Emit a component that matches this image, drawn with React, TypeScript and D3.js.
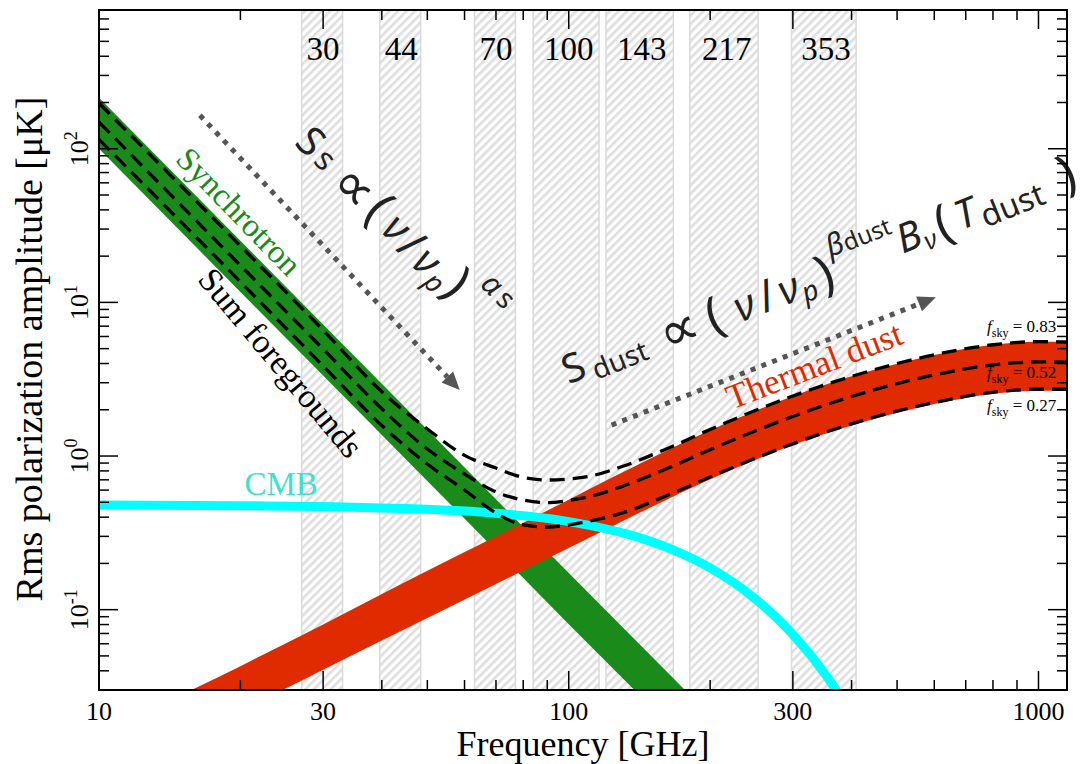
import React from "react";
import * as d3 from "d3";

// ---------------- data ----------------
const bandNames = ["30", "44", "70", "100", "143", "217", "353"];
const bandCenters = [30, 44, 70, 100, 143, 217, 353];
const bandLow = [27, 39.6, 63, 84, 120, 181, 298];
const bandHigh = [33, 48.4, 77, 116, 167, 253, 409];

const syncFreq = [10, 20, 30, 50, 70, 100, 150, 200];
const syncHigh = [215, 25.2, 7.18, 1.48, 0.523, 0.173, 0.0498, 0.0205];
const syncLow = [100, 11.7, 3.34, 0.689, 0.243, 0.0805, 0.0232, 0.0095];

const dustFreq = [10, 15, 20, 30, 50, 70, 100, 150, 200, 300, 400, 500, 600, 800, 1000, 1150];
const dustHigh = [0.0147, 0.0279, 0.0429, 0.0802, 0.179, 0.299, 0.52, 0.97, 1.47, 2.45, 3.3, 3.98, 4.55, 5.3, 5.55, 5.52];
const dustLow = [0.00745, 0.014, 0.0218, 0.0407, 0.0883, 0.147, 0.252, 0.466, 0.706, 1.18, 1.58, 1.91, 2.18, 2.54, 2.66, 2.65];

const cmbFreq = [10, 20, 30, 44, 50, 70, 100, 143, 172, 200, 250, 300, 353, 400];
const cmbRms = [0.48, 0.475, 0.469, 0.456, 0.45, 0.424, 0.374, 0.291, 0.235, 0.187, 0.117, 0.069, 0.0374, 0.0209];

const sumFreq = [10, 20, 30, 40, 50, 60, 70, 80, 90, 100, 110, 130, 160, 200, 300, 400, 600, 800, 1000, 1150];
const sum083 = [198, 23.3, 6.6, 2.62, 1.5, 1.01, 0.835, 0.725, 0.698, 0.708, 0.735, 0.855, 1.1, 1.49, 2.46, 3.3, 4.56, 5.3, 5.55, 5.52];
const sum052 = [149, 17.4, 4.97, 2.03, 1.11, 0.764, 0.583, 0.517, 0.497, 0.513, 0.542, 0.634, 0.817, 1.1, 1.81, 2.44, 3.37, 3.92, 4.1, 4.08];
const sum027 = [115, 13.6, 3.86, 1.58, 0.887, 0.601, 0.426, 0.356, 0.345, 0.356, 0.376, 0.426, 0.545, 0.73, 1.2, 1.62, 2.23, 2.6, 2.72, 2.72];
const fskyValues = ["0.83", "0.52", "0.27"];

const xMajorTicks = [10, 30, 100, 300, 1000];
const xTickLabels = ["10", "30", "100", "300", "1000"];
const xMinorTicks = [20, 40, 50, 60, 70, 80, 90, 200, 400, 500, 600, 700, 800, 900];
const yMajorTicks = [0.1, 1, 10, 100];
const yTickExponents = ["-1", "0", "1", "2"];
const yMinorTicks = [
  0.04, 0.05, 0.06, 0.07, 0.08, 0.09,
  0.2, 0.3, 0.4, 0.5, 0.6, 0.7, 0.8, 0.9,
  2, 3, 4, 5, 6, 7, 8, 9,
  20, 30, 40, 50, 60, 70, 80, 90,
  200, 300, 400, 500, 600, 700, 800,
];

const SERIF = "'Liberation Serif', 'Times New Roman', Times, serif";
const SANS = "'Noto Sans', 'DejaVu Sans', sans-serif";
const SYM = "'DejaVu Sans', sans-serif";

const W = 1087;
const H = 764;
const PL = 99, PR = 1067, PT = 10, PB = 690;

type Piece = [string, number, number, number, boolean?, string?];

export default function App() {
  const x = d3.scaleLog().domain([10, 1150]).range([PL, PR]);
  const y = d3.scaleLog().domain([0.03, 800]).range([PB, PT]);

  const area = (f: number[], lo: number[], hi: number[], curve: any) =>
    d3
      .area<number>()
      .x((i) => x(f[i]))
      .y0((i) => y(lo[i]))
      .y1((i) => y(hi[i]))
      .curve(curve)(d3.range(f.length)) as string;

  const line = (f: number[], v: number[]) =>
    d3
      .line<number>()
      .x((i) => x(f[i]))
      .y((i) => y(v[i]))
      .curve(d3.curveMonotoneX)(d3.range(f.length)) as string;

  const syncPath = area(syncFreq, syncLow, syncHigh, d3.curveLinear);
  const dustPath = area(dustFreq, dustLow, dustHigh, d3.curveMonotoneX);
  const cmbPath = line(cmbFreq, cmbRms);
  const sums = [sum083, sum052, sum027].map((s) => line(sumFreq, s));

  // arrows in data coordinates
  const arrows = [
    { from: [16.4, 165], to: [58.6, 2.69] },
    { from: [123.4, 1.59], to: [604.5, 10.8] },
  ];

  const arrowEls = arrows.map((a, k) => {
    const x0 = x(a.from[0]), y0 = y(a.from[1]);
    const x1 = x(a.to[0]), y1 = y(a.to[1]);
    const dx = x1 - x0, dy = y1 - y0;
    const L = Math.hypot(dx, dy);
    const ux = dx / L, uy = dy / L;
    const hl = 18, hw = 8;
    const bx = x1 - ux * hl, by = y1 - uy * hl;
    const head = `M${x1},${y1}L${bx - uy * hw},${by + ux * hw}L${bx + uy * hw},${by - ux * hw}Z`;
    return (
      <g key={k}>
        <line x1={x0} y1={y0} x2={bx} y2={by} stroke="#555" strokeWidth={5} strokeDasharray="5 6.5" />
        <path d={head} fill="#555" />
      </g>
    );
  });

  const tf = (f: number, v: number, ang: number) => `translate(${x(f)},${y(v)}) rotate(${ang})`;

  // formula pieces: [text, along, down, size, italic, font]
  const formula1: Piece[] = [
    ["S", 0, 0, 40],
    ["s", 23, 3, 32],
    ["∝", 63, 3, 56, false, SYM],
    ["(", 96, 0, 50],
    ["ν", 122, 2, 42, true],
    ["/", 144, 4, 44],
    ["ν", 167, 5, 42, true],
    ["p", 187, 16, 28, true],
    [")", 204, 0, 50],
    ["α", 230, -23, 30, true],
    ["s", 250, -22, 28],
  ];
  const formula2: Piece[] = [
    ["S", 0, 0, 40],
    ["dust", 46, 11, 28],
    ["∝", 112, 5, 56, false, SYM],
    ["(", 150, 4, 50],
    ["ν", 182, 6, 42, true],
    ["/", 206, 6, 44],
    ["ν", 229, 7, 42, true],
    ["p", 248, 18, 28, true],
    [")", 268, 6, 50],
    ["β", 288, -16, 30, true],
    ["dust", 322, -13, 24],
    ["B", 360, 4, 40, true],
    ["ν", 379, 16, 26, true],
    ["(", 397, 4, 50],
    ["T", 421, 4, 40, true],
    ["dust", 468, 14, 32],
    [")", 530, 4, 50],
  ];

  const renderFormula = (pieces: Piece[], f: number, v: number, ang: number) => (
    <g transform={tf(f, v, ang)} fontFamily={SANS} fill="#222">
      {pieces.map((p, i) => (
        <text
          key={i}
          x={p[1]}
          y={p[2]}
          fontSize={p[3]}
          fontStyle={p[4] ? "italic" : "normal"}
          fontFamily={p[5] || SANS}
          textAnchor="middle"
          dominantBaseline="central"
        >
          {p[0]}
        </text>
      ))}
    </g>
  );

  return (
    <svg width={W} height={H} style={{ position: "absolute", left: 0, top: 0, background: "#fff" }}>
      <defs>
        <pattern id="hatch" patternUnits="userSpaceOnUse" width={6} height={6} patternTransform="rotate(45)">
          <rect width={6} height={6} fill="#fff" />
          <rect x={0} y={0} width={2.6} height={6} fill="#dedede" />
        </pattern>
        <clipPath id="plot">
          <rect x={PL} y={PT} width={PR - PL} height={PB - PT} />
        </clipPath>
      </defs>
      <rect width={W} height={H} fill="#fff" />

      <g clipPath="url(#plot)">
        {bandNames.map((b, i) => (
          <rect
            key={b}
            x={x(bandLow[i])}
            y={PT}
            width={x(bandHigh[i]) - x(bandLow[i])}
            height={PB - PT}
            fill="url(#hatch)"
            stroke="#dadada"
            strokeWidth={1.5}
          />
        ))}
        <path d={syncPath} fill="#1a8a1a" />
        <path d={dustPath} fill="#e02a00" />
        <path d={cmbPath} fill="none" stroke="#00ffff" strokeWidth={9} />
        {sums.map((d, i) => (
          <path key={i} d={d} fill="none" stroke="#000" strokeWidth={3.3} strokeDasharray="15 8" />
        ))}
      </g>

      {bandNames.map((b, i) => (
        <text key={b} x={x(bandCenters[i])} y={y(377)} fontFamily={SERIF} fontSize={33} textAnchor="middle" fill="#000">
          {b}
        </text>
      ))}

      {arrowEls}

      {renderFormula(formula1, 28.4, 113.7, 44)}
      {renderFormula(formula2, 102, 3.85, -22)}

      <text transform={tf(19.1, 34.8, 46)} fontFamily={SERIF} fontSize={33} fill="#1a8a1a" textAnchor="middle">
        Synchrotron
      </text>
      <text transform={tf(23.35, 3.63, 50)} fontFamily={SERIF} fontSize={34} fill="#000" textAnchor="middle">
        Sum foregrounds
      </text>
      <text transform={tf(20.4, 0.557, 0)} fontFamily={SERIF} fontSize={33} fill="#40e0d0">
        CMB
      </text>
      <text transform={tf(340, 3.3, -21)} fontFamily={SERIF} fontSize={35} fill="#e02a00" textAnchor="middle">
        Thermal dust
      </text>

      {fskyValues.map((v, i) => (
        <text key={v} x={x(1091)} y={y([6.41, 3.22, 1.96][i])} fontFamily={SERIF} fontSize={17} textAnchor="end" fill="#000">
          <tspan fontStyle="italic">f</tspan>
          <tspan dy={5} fontSize={12}>sky</tspan>
          <tspan dy={-5}>{` = ${v}`}</tspan>
        </text>
      ))}

      <g stroke="#000" strokeWidth={1.5}>
        {xMajorTicks.map((t) => (
          <g key={"xM" + t}>
            <line x1={x(t)} x2={x(t)} y1={PB} y2={PB - 19} />
            <line x1={x(t)} x2={x(t)} y1={PT} y2={PT + 19} />
          </g>
        ))}
        {xMinorTicks.map((t) => (
          <g key={"xm" + t}>
            <line x1={x(t)} x2={x(t)} y1={PB} y2={PB - 10} />
            <line x1={x(t)} x2={x(t)} y1={PT} y2={PT + 10} />
          </g>
        ))}
        {yMajorTicks.map((t) => (
          <g key={"yM" + t}>
            <line x1={PL} x2={PL + 19} y1={y(t)} y2={y(t)} />
            <line x1={PR} x2={PR - 19} y1={y(t)} y2={y(t)} />
          </g>
        ))}
        {yMinorTicks.map((t) => (
          <g key={"ym" + t}>
            <line x1={PL} x2={PL + 10} y1={y(t)} y2={y(t)} />
            <line x1={PR} x2={PR - 10} y1={y(t)} y2={y(t)} />
          </g>
        ))}
      </g>
      <rect x={PL} y={PT} width={PR - PL} height={PB - PT} fill="none" stroke="#000" strokeWidth={2} />

      {xMajorTicks.map((t, i) => (
        <text key={"xl" + t} x={x(t)} y={720} fontFamily={SERIF} fontSize={26} textAnchor="middle" fill="#000">
          {xTickLabels[i]}
        </text>
      ))}
      {yMajorTicks.map((t, i) => (
        <text
          key={"yl" + t}
          transform={`translate(88,${y(t)}) rotate(-90)`}
          fontFamily={SERIF}
          fontSize={26}
          textAnchor="middle"
          fill="#000"
        >
          10
          <tspan dy={-11} fontSize={18}>
            {yTickExponents[i]}
          </tspan>
        </text>
      ))}

      <text x={(PL + PR) / 2} y={756} fontFamily={SERIF} fontSize={36} textAnchor="middle" fill="#000">
        Frequency [GHz]
      </text>
      <text transform={`translate(42,349) rotate(-90)`} fontFamily={SERIF} fontSize={38} textAnchor="middle" fill="#000">
        Rms polarization amplitude [μK]
      </text>
    </svg>
  );
}
